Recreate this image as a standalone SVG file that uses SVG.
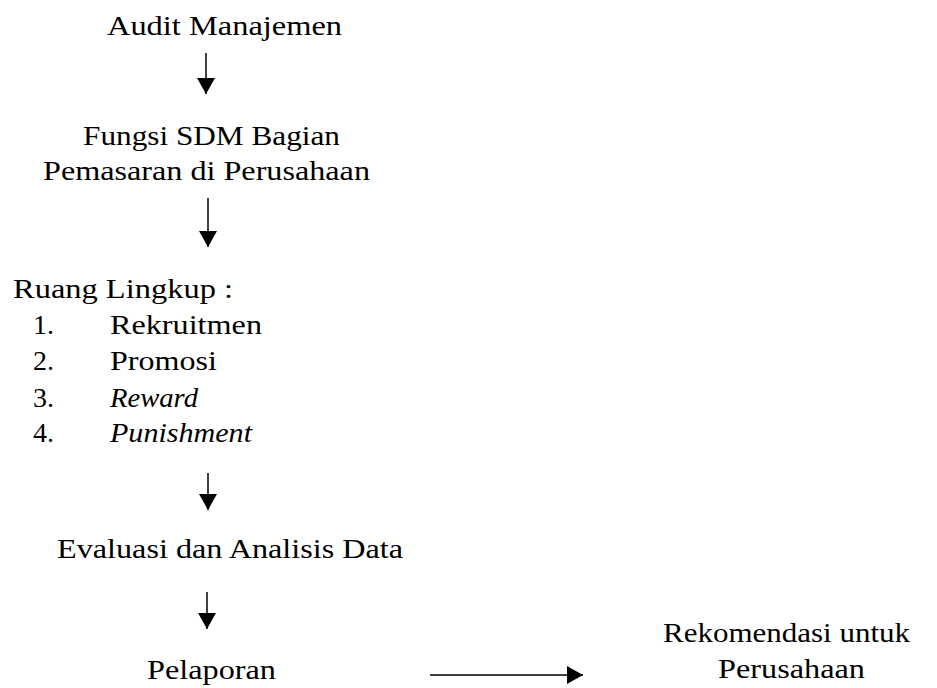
<svg xmlns="http://www.w3.org/2000/svg" width="937" height="688" viewBox="0 0 937 688">
<style>
text{font-family:"Liberation Serif","Times New Roman",serif;font-size:28px;fill:#000}
.it{font-style:italic}
.c{stroke:#000;stroke-width:1.5;fill:none}
</style>
<defs>
<marker id="ah" markerUnits="userSpaceOnUse" markerWidth="18" markerHeight="18" viewBox="0 0 16 18" refX="16" refY="9" orient="auto">
<path d="M0,0 L16,9 L0,18 Z" fill="#000"/>
</marker>
</defs>
<rect width="937" height="688" fill="#fff"/>
<g id="n-audit"><text x="107" y="35" textLength="235" lengthAdjust="spacingAndGlyphs">Audit Manajemen</text></g>
<g id="n-fungsi">
<text x="83" y="145" textLength="257" lengthAdjust="spacingAndGlyphs">Fungsi SDM Bagian</text>
<text x="43" y="180" textLength="327" lengthAdjust="spacingAndGlyphs">Pemasaran di Perusahaan</text>
</g>
<g id="n-ruang">
<text x="13" y="298" textLength="220" lengthAdjust="spacingAndGlyphs">Ruang Lingkup :</text>
<text x="33" y="334">1.</text><text x="110" y="334" textLength="152" lengthAdjust="spacingAndGlyphs">Rekruitmen</text>
<text x="33" y="370">2.</text><text x="110" y="370" textLength="107" lengthAdjust="spacingAndGlyphs">Promosi</text>
<text x="33" y="407">3.</text><text x="110" y="407" class="it" textLength="88" lengthAdjust="spacingAndGlyphs">Reward</text>
<text x="33" y="442">4.</text><text x="110" y="442" class="it" textLength="142" lengthAdjust="spacingAndGlyphs">Punishment</text>
</g>
<g id="n-evaluasi"><text x="57" y="558" textLength="346" lengthAdjust="spacingAndGlyphs">Evaluasi dan Analisis Data</text></g>
<g id="n-pelaporan"><text x="147" y="679" textLength="129" lengthAdjust="spacingAndGlyphs">Pelaporan</text></g>
<g id="n-rekomendasi">
<text x="663" y="642" textLength="247" lengthAdjust="spacingAndGlyphs">Rekomendasi untuk</text>
<text x="718" y="678" textLength="147" lengthAdjust="spacingAndGlyphs">Perusahaan</text>
</g>
<g id="connectors">
<line class="c" x1="206" y1="53" x2="206" y2="94" marker-end="url(#ah)"/>
<line class="c" x1="208" y1="198" x2="208" y2="247" marker-end="url(#ah)"/>
<line class="c" x1="208" y1="473" x2="208" y2="510" marker-end="url(#ah)"/>
<line class="c" x1="207" y1="592" x2="207" y2="629" marker-end="url(#ah)"/>
<line class="c" x1="430" y1="675" x2="583" y2="675" marker-end="url(#ah)"/>
</g>
</svg>
